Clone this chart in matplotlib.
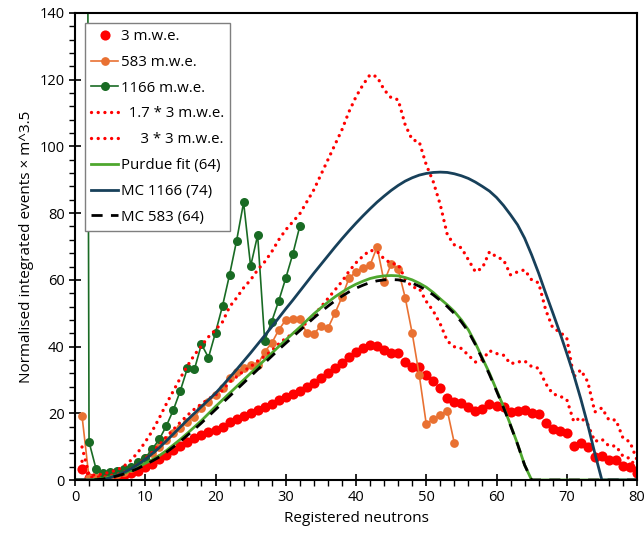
import numpy as np
import matplotlib
matplotlib.use('Agg')
import matplotlib.pyplot as plt
from matplotlib.ticker import MultipleLocator

plt.rcParams['font.family'] = ['Open Sans', 'DejaVu Sans']

# x positions (registered neutrons)
n_data = np.arange(1, 81)
n_fit = np.arange(0, 81)

# 3 m.w.e. measured, n = 1..80
mwe3 = [3.3, 0.5, 0.5, 0.6, 0.8, 1.0, 1.4, 2.0, 2.8, 3.8,
        4.9, 6.2, 7.6, 8.9, 10.2, 11.4, 12.5, 13.4, 14.3, 15.0,
        15.8, 17.3, 18.2, 19.2, 20.0, 21.0, 21.8, 22.8, 24.0, 25.0,
        25.8, 26.6, 27.8, 29.0, 30.5, 32.0, 33.5, 35.0, 36.8, 38.3,
        39.5, 40.5, 40.3, 39.0, 38.2, 38.0, 35.5, 34.0, 33.8, 31.5,
        29.8, 27.5, 24.5, 23.5, 23.2, 22.0, 20.8, 21.2, 22.8, 22.3,
        22.0, 20.5, 20.8, 21.0, 20.0, 19.7, 17.0, 15.2, 14.8, 14.2,
        10.3, 11.0, 9.8, 6.8, 7.2, 6.0, 6.0, 4.2, 3.8, 2.0]

# 583 m.w.e., n = 1..54
mwe583 = [19.2, 0.6, 0.8, 1.0, 1.3, 1.8, 2.5, 3.5, 5.0, 6.5,
          8.0, 10.0, 12.0, 14.0, 15.5, 17.5, 19.0, 21.5, 23.5, 25.5,
          27.5, 30.5, 32.5, 33.5, 34.5, 34.5, 38.5, 41.0, 45.0, 48.0,
          48.2, 48.3, 44.0, 43.8, 46.2, 45.5, 50.0, 54.8, 60.5, 62.4,
          63.5, 64.4, 69.9, 59.4, 64.7, 63.2, 54.7, 44.0, 31.5, 16.8,
          18.2, 19.5, 20.8, 11.0]

# 1166 m.w.e., n = 1..32 (first point is far off scale)
mwe1166 = [800.0, 11.4, 3.3, 2.0, 2.3, 2.8, 3.3, 4.0, 5.5, 6.6,
           9.3, 12.2, 16.2, 21.0, 26.8, 33.5, 33.2, 40.7, 36.7, 44.2,
           52.2, 61.5, 71.7, 83.2, 64.1, 73.4, 41.8, 47.5, 53.7, 60.5,
           67.7, 76.1]

scale_factors = [1.7, 3]
scale_labels = ['  1.7 * 3 m.w.e.', '     3 * 3 m.w.e.']

# fits / MC, n = 0..80
purdue = [0, 0, 0, 0.2, 0.5, 0.9, 1.4, 2.1, 2.9, 3.9,
          5.0, 6.1, 7.3, 8.8, 10.5, 12.2, 14.0, 15.9, 17.8, 19.9,
          22.0, 24.0, 26.0, 28.0, 30.0, 32.0, 34.0, 36.0, 38.0, 40.0,
          42.0, 43.9, 45.8, 47.8, 49.8, 51.6, 53.3, 54.9, 56.3, 57.6,
          58.7, 59.6, 60.4, 60.9, 61.2, 61.3, 61.2, 60.7, 60.0, 59.0,
          57.8, 56.2, 54.3, 52.5, 50.5, 48.0, 45.0, 41.0, 36.5, 32.0,
          27.0, 22.0, 16.5, 10.8, 4.5, 0, 0, 0, 0, 0,
          0, 0, 0, 0, 0, 0, 0, 0, 0, 0, 0]

mc1166 = [0, 0, 0, 0, 0, 0.7, 1.4, 2.3, 3.4, 4.7,
          6.2, 7.9, 9.7, 11.7, 13.8, 15.9, 18.0, 20.0, 22.0, 24.0,
          26.0, 28.3, 30.7, 33.1, 35.6, 38.1, 40.7, 43.3, 45.9, 48.6,
          51.3, 53.9, 56.6, 59.3, 62.0, 64.6, 67.2, 69.8, 72.3, 74.7,
          77.0, 79.2, 81.3, 83.3, 85.1, 86.8, 88.3, 89.6, 90.6, 91.4,
          91.9, 92.2, 92.3, 92.2, 91.8, 91.2, 90.4, 89.3, 88.0, 86.6,
          84.7, 82.3, 79.5, 76.5, 72.5, 67.5, 62.0, 56.0, 50.2, 44.3,
          38.0, 31.5, 24.3, 16.5, 8.0, 0, 0, 0, 0, 0, 0]

mc583 = [0, 0, 0, 0.1, 0.3, 0.7, 1.2, 1.8, 2.6, 3.5,
         4.6, 5.7, 6.9, 8.3, 9.9, 11.6, 13.4, 15.2, 17.1, 19.1,
         21.1, 23.1, 25.1, 27.1, 29.1, 31.1, 33.1, 35.1, 37.1, 39.1,
         41.0, 42.9, 44.8, 46.7, 48.6, 50.4, 52.1, 53.7, 55.1, 56.4,
         57.5, 58.4, 59.2, 59.7, 60.0, 60.1, 60.0, 59.6, 59.0, 58.1,
         56.9, 55.5, 53.8, 52.0, 49.9, 47.4, 44.5, 40.6, 36.2, 31.6,
         26.7, 21.7, 16.3, 10.7, 4.5, 0, 0, 0, 0, 0,
         0, 0, 0, 0, 0, 0, 0, 0, 0, 0, 0]

fig = plt.figure(figsize=(6.44, 5.39), dpi=100)
ax = fig.add_axes([75/644, 59/539, 562/644, 467/539])

ax.plot(n_data, mwe3, 'o', color='#FF0000', ms=7.3, mew=0, label='3 m.w.e.')
ax.plot(n_data[:len(mwe583)], mwe583, '-o', color='#E97132', lw=1.2, ms=6.3, mew=0, label='583 m.w.e.')
ax.plot(n_data[:len(mwe1166)], mwe1166, '-o', color='#196B24', lw=1.2, ms=6.5, mew=0, label='1166 m.w.e.')
for k, lab in zip(scale_factors, scale_labels):
    ax.plot(n_data, k * np.array(mwe3), color='#FF0000', lw=2.4,
            linestyle=(0, (0.01, 2.0)), dash_capstyle='round', label=lab)
ax.plot(n_fit, purdue, color='#4EA72E', lw=2, label='Purdue fit (64)')
ax.plot(n_fit, mc1166, color='#17405A', lw=2, label='MC 1166 (74)')
ax.plot(n_fit, mc583, color='black', lw=2, linestyle=(0, (4, 3)), label='MC 583 (64)')

ax.set_xlim(0, 80)
ax.set_ylim(0, 140)
ax.xaxis.set_major_locator(MultipleLocator(10))
ax.xaxis.set_minor_locator(MultipleLocator(2))
ax.yaxis.set_major_locator(MultipleLocator(20))
ax.yaxis.set_minor_locator(MultipleLocator(4))
ax.tick_params(which='major', direction='inout', length=8, width=1.2, labelsize=10.5)
ax.tick_params(which='minor', direction='out', length=4, width=1)
for s in ax.spines.values():
    s.set_linewidth(1.5)

ax.set_xlabel('Registered neutrons', fontsize=11)
ax.set_ylabel('Normalised integrated events × m^3.5', fontsize=11)

leg = ax.legend(loc='upper left', bbox_to_anchor=(85/644, 1 - 23/539),
                bbox_transform=fig.transFigure, borderaxespad=0, fontsize=10.8,
                handlelength=1.8, handletextpad=0.2, labelspacing=0.72,
                fancybox=False, edgecolor='#7f7f7f', framealpha=1)
leg.get_frame().set_linewidth(1)

fig.savefig('out.png', dpi=100)
